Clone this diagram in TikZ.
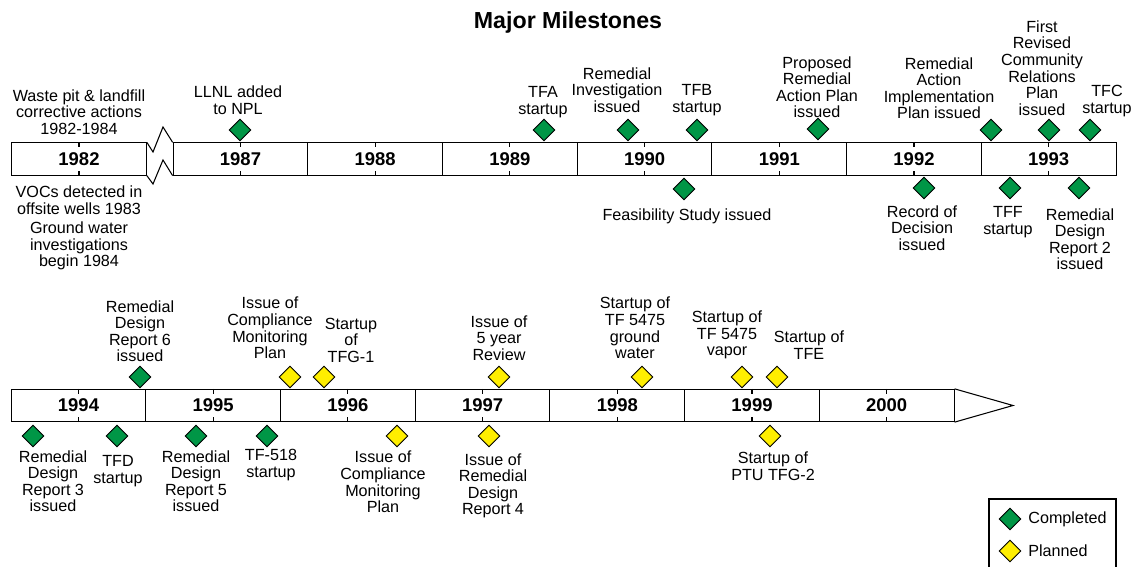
\documentclass[tikz,border=0pt]{standalone}
\usepackage{fontspec}
\setmainfont{Liberation Sans}
\usetikzlibrary{shapes.geometric}
\definecolor{msgreen}{RGB}{0,150,70}
\definecolor{msyellow}{RGB}{255,238,0}
\begin{document}
\begin{tikzpicture}[x=0.02cm,y=-0.02cm,
  lbl/.style={font=\fontsize{9.2}{9.4}\selectfont, align=center, inner sep=0pt},
  yearbox/.style={draw, line width=0.6pt, minimum width=2.694cm, minimum height=0.645cm, inner sep=0pt, font=\bfseries\fontsize{10.5}{12}\selectfont},
  done/.style={diamond, draw, line width=0.5pt, fill=msgreen, minimum width=0.44cm, minimum height=0.44cm, inner sep=0pt},
  plan/.style={diamond, draw, line width=0.5pt, fill=msyellow, minimum width=0.44cm, minimum height=0.44cm, inner sep=0pt},
  tick/.style={line width=0.6pt}]
\useasboundingbox (0,0) rectangle (1136,567);
\clip (0,0) rectangle (1136,567);

% Title
\node[inner sep=0pt, font=\bfseries\fontsize{13.2}{15}\selectfont] (title) at (568,23) {Major Milestones};

% ---------- Row 1 ----------
\node[yearbox] (y1982) at (79,159) {1982};
\foreach \yr/\cx in {1987/240.5,1988/375.2,1989/509.9,1990/644.6,1991/779.3,1992/914,1993/1048.7}{
  \node[yearbox] (y\yr) at (\cx,159) {\yr};
}
\foreach \yr in {1982,1987,1988,1989,1990,1991,1992,1993}{
  \draw[tick] (y\yr.north) -- ++(0,5);
  \draw[tick] (y\yr.south) -- ++(0,-5);
}
% break zigzag
\coordinate (zt1) at (153,152);
\coordinate (zt2) at (163,127);
\coordinate (zb1) at (153,184);
\coordinate (zb2) at (163,160);
\draw[tick, line join=miter] (y1982.north east) -- (zt1) -- (zt2) -- (y1987.north west);
\draw[tick, line join=miter] (y1982.south east) -- (zb1) -- (zb2) -- (y1987.south west);

% diamonds row 1
\node[done] (dLLNL) at (240,130) {};
\node[done] (dTFA) at (544,130) {};
\node[done] (dRI) at (628,130) {};
\node[done] (dTFB) at (697,130) {};
\node[done] (dPRAP) at (818,129) {};
\node[done] (dRAIP) at (991,130) {};
\node[done] (dCRP) at (1049,130) {};
\node[done] (dTFC) at (1090,130) {};
\node[done] (dFS) at (684,189) {};
\node[done] (dROD) at (924,188) {};
\node[done] (dTFF) at (1010,188) {};
\node[done] (dRDR2) at (1079,188) {};

% labels row 1
\node[lbl] (lWaste) at (79,112) {Waste pit \& landfill\\corrective actions\\1982-1984};
\node[lbl] (lLLNL) at (238,100) {LLNL added\\to NPL};
\node[lbl] (lTFA) at (543,102) {TFA\\startup};
\node[lbl] (lRI) at (617,90) {Remedial\\Investigation\\issued};
\node[lbl] (lTFB) at (697,100) {TFB\\startup};
\node[lbl] (lPRAP) at (817,87) {Proposed\\Remedial\\Action Plan\\issued};
\node[lbl] (lRAIP) at (939,88) {Remedial\\Action\\Implementation\\Plan issued};
\node[lbl] (lCRP) at (1042,68) {First\\Revised\\Community\\Relations\\Plan\\issued};
\node[lbl] (lTFC) at (1107,101) {TFC\\startup};
\node[lbl] (lVOC) at (79,200) {VOCs detected in\\offsite wells 1983};
\node[lbl] (lGW) at (79,246) {Ground water\\investigations\\begin 1984};
\node[lbl] (lFS) at (687,216) {Feasibility Study issued};
\node[lbl] (lROD) at (922,228) {Record of\\Decision\\issued};
\node[lbl] (lTFF) at (1008,222) {TFF\\startup};
\node[lbl] (lRDR2) at (1080,239) {Remedial\\Design\\Report 2\\issued};

% ---------- Row 2 ----------
\foreach \yr/\cx in {1994/78.5,1995/213.2,1996/347.9,1997/482.6,1998/617.3,1999/752,2000/886.7}{
  \node[yearbox] (y\yr) at (\cx,405.5) {\yr};
  \draw[tick] (y\yr.north) -- ++(0,5);
  \draw[tick] (y\yr.south) -- ++(0,-5);
}
\coordinate (tip) at (1013,405.5);
\draw[tick, line join=miter] (y2000.north east) -- (tip) -- (y2000.south east);

% diamonds row 2
\node[done] (dRDR6) at (140,377) {};
\node[plan] (dCMPa) at (290,377) {};
\node[plan] (dTFG1) at (324,377) {};
\node[plan] (dFYR) at (499,377) {};
\node[plan] (dGW) at (642,377) {};
\node[plan] (dVap) at (742,377) {};
\node[plan] (dTFE) at (777,377) {};
\node[done] (dRDR3) at (33,436) {};
\node[done] (dTFD) at (117,436) {};
\node[done] (dRDR5) at (196,436) {};
\node[done] (dTF518) at (267,436) {};
\node[plan] (dCMPb) at (397,436) {};
\node[plan] (dRDR4) at (489,436) {};
\node[plan] (dPTU) at (770,436) {};

% labels row 2
\node[lbl] (lRDR6) at (140,331) {Remedial\\Design\\Report 6\\issued};
\node[lbl] (lCMPa) at (270,328) {Issue of\\Compliance\\Monitoring\\Plan};
\node[lbl] (lTFG1) at (351,340) {Startup\\of\\TFG-1};
\node[lbl] (lFYR) at (499,338) {Issue of\\5 year\\Review};
\node[lbl] (lGW5475) at (635,328) {Startup of\\TF 5475\\ground\\water};
\node[lbl] (lVap) at (727,335) {Startup of\\TF 5475\\vapor};
\node[lbl] (lTFE) at (809,345) {Startup of\\TFE};
\node[lbl] (lRDR3) at (53,481) {Remedial\\Design\\Report 3\\issued};
\node[lbl] (lTFD) at (118,471) {TFD\\startup};
\node[lbl] (lRDR5) at (196,481) {Remedial\\Design\\Report 5\\issued};
\node[lbl] (lTF518) at (271,465) {TF-518\\startup};
\node[lbl] (lCMPb) at (383,482) {Issue of\\Compliance\\Monitoring\\Plan};
\node[lbl] (lRDR4) at (493,486) {Issue of\\Remedial\\Design\\Report 4};
\node[lbl] (lPTU) at (773,466) {Startup of\\PTU TFG-2};

% ---------- Legend ----------
\draw[line width=0.6pt] (989,499) rectangle (1116,590);
\node[done] (legD) at (1010,519) {};
\node[plan] (legP) at (1010,551) {};
\node[lbl, anchor=west] (legDt) at (1028,519) {Completed};
\node[lbl, anchor=west] (legPt) at (1028,551) {Planned};
\end{tikzpicture}
\end{document}
